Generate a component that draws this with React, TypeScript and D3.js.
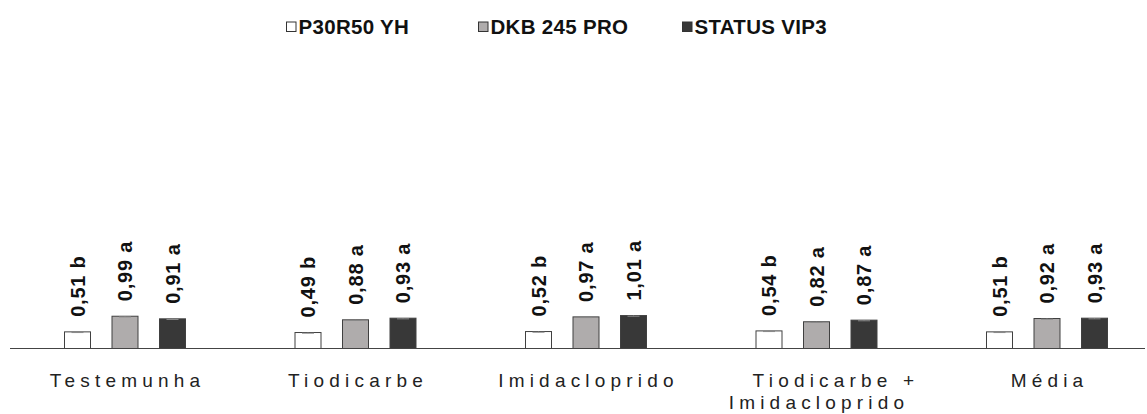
import React from "react";
import * as d3 from "d3";

const categories = ["Testemunha", "Tiodicarbe", "Imidacloprido", "Tiodicarbe +|Imidacloprido", "Média"];
const seriesNames = ["P30R50 YH", "DKB 245 PRO", "STATUS VIP3"];
const p30r50 = [0.51, 0.49, 0.52, 0.54, 0.51];
const dkb245 = [0.99, 0.88, 0.97, 0.82, 0.92];
const statusVip3 = [0.91, 0.93, 1.01, 0.87, 0.93];
const p30r50Letters = ["b", "b", "b", "b", "b"];
const dkb245Letters = ["a", "a", "a", "a", "a"];
const statusLetters = ["a", "a", "a", "a", "a"];
const errP30 = [0.01, 0.01, 0.01, 0.01, 0.01];
const errDkb = [0.01, 0.01, 0.01, 0.01, 0.01];
const errStatus = [0.01, 0.01, 0.01, 0.01, 0.01];
const colors = ["#ffffff", "#afacac", "#383838"];

const W = 1147;
const H = 414;

export default function App() {
  const x = d3.scaleBand<string>().domain(categories).range([9.75, 1162.25]).paddingInner(0).paddingOuter(0);
  const sub = d3.scaleBand<string>().domain(seriesNames).range([-71.25, 71.25]);
  const y = d3.scaleLinear().domain([0, 10]).range([348.5, 22.5]);
  const values = [p30r50, dkb245, statusVip3];
  const letters = [p30r50Letters, dkb245Letters, statusLetters];
  const errs = [errP30, errDkb, errStatus];
  const barW = 26;
  const fmt = (v: number) => d3.format(".2f")(v).replace(".", ",");

  const legendX = [286, 478, 682];

  return (
    <svg width={W} height={H} style={{ position: "absolute", left: 0, top: 0, background: "#fff" }}
      fontFamily="Arial, 'Liberation Sans', sans-serif">
      {/* legend */}
      {seriesNames.map((s, i) => (
        <g key={s} transform={`translate(${legendX[i]},27)`}>
          <rect x={0.5} y={-5} width={9.5} height={9.5} fill={colors[i]} stroke="#333" strokeWidth={1} />
          <text x={12.5} y={0} dy="0.35em" fontSize={20.5} fontWeight="bold" letterSpacing={0.3} fill="#111">{s}</text>
        </g>
      ))}
      {/* bars */}
      {categories.map((c, ci) => {
        const cx = (x(c) as number) + x.bandwidth() / 2;
        return (
          <g key={c}>
            {seriesNames.map((s, si) => {
              const bx = cx + (sub(s) as number) + sub.bandwidth() / 2;
              const v = values[si][ci];
              const e = errs[si][ci];
              return (
                <g key={s}>
                  <rect x={bx - barW / 2} y={y(v)} width={barW} height={y(0) - y(v)}
                    fill={colors[si]} stroke="#404040" strokeWidth={1} />
                  <line x1={bx - 6} x2={bx + 6} y1={y(v + e) + 1} y2={y(v + e) + 1} stroke="#888" strokeWidth={1} />
                  <line x1={bx} x2={bx} y1={y(v + e) + 1} y2={y(v)} stroke="#888" strokeWidth={1} />
                  <text transform={`translate(${bx},${y(v) - 15}) rotate(-90)`} dy="0.36em"
                    fontSize={20} fontWeight="bold" letterSpacing={0.8} fill="#111">
                    {`${fmt(v)} ${letters[si][ci]}`}
                  </text>
                </g>
              );
            })}
          </g>
        );
      })}
      {/* axis */}
      <line x1={10} x2={1145} y1={348.5} y2={348.5} stroke="#444" strokeWidth={1} />
      {categories.map((c) => {
        const cx = (x(c) as number) + x.bandwidth() / 2;
        const lines = c.split("|");
        return (
          <text key={c} x={cx} y={387} textAnchor="middle" fontSize={19} letterSpacing={5.2} fill="#222">
            {lines.map((l, li) => (
              <tspan key={li} x={cx + 2.5 + (lines.length > 1 && li === 0 ? 17 : 0)} dy={li === 0 ? 0 : 22}>{l}</tspan>
            ))}
          </text>
        );
      })}
    </svg>
  );
}
